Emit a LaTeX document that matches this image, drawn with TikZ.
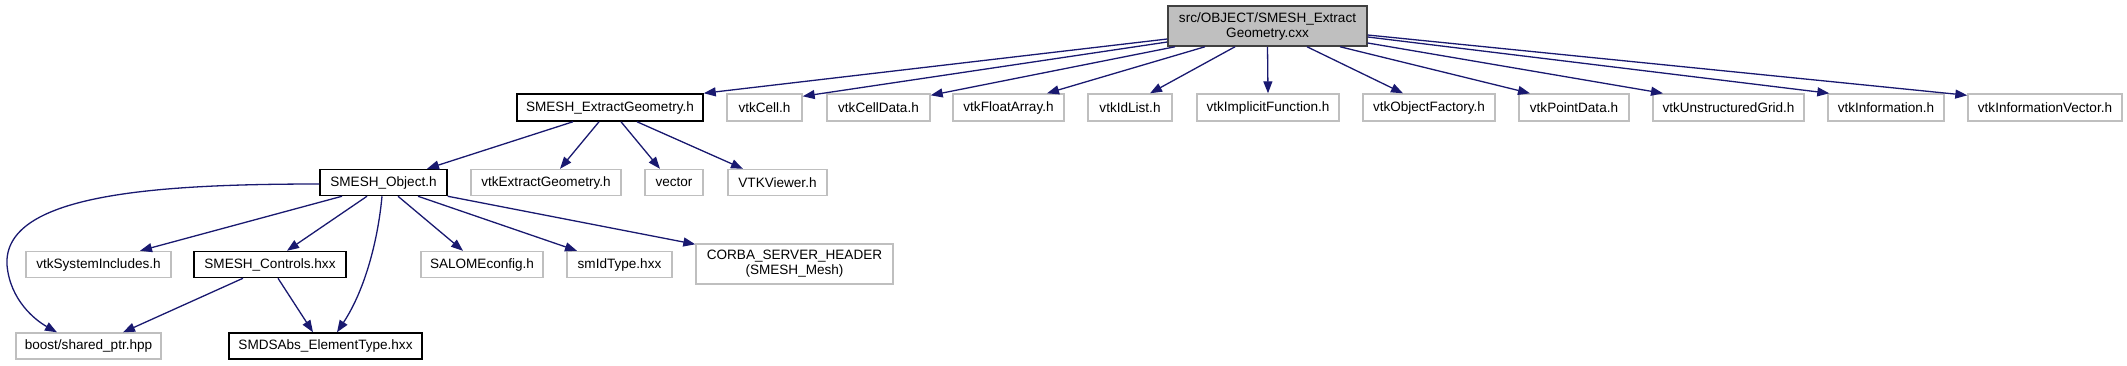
\documentclass[tikz,border=0pt]{standalone}
\usepackage{fontspec}
\setmainfont{Liberation Sans}
\usetikzlibrary{arrows.meta,calc}
\definecolor{edgeblue}{HTML}{191970}
\definecolor{boxgrey}{HTML}{BFBFBF}
\definecolor{rootborder}{HTML}{404040}
\begin{document}
\begin{tikzpicture}[x=1pt,y=-1pt,
  font=\fontsize{13.56}{15}\selectfont,
  extbox/.style={draw=boxgrey, line width=1.4pt, rectangle, inner sep=0pt, align=center},
  docbox/.style={draw=black, line width=1.5pt, rectangle, inner sep=0pt, align=center},
  rootbox/.style={draw=rootborder, fill=boxgrey, line width=1.5pt, rectangle, inner sep=0pt, align=center},
  dep/.style={draw=edgeblue, line width=1.3pt, -{Triangle[length=12pt,width=9pt]}}]
\useasboundingbox (0,0) rectangle (2127,365);
% row 1
\node[rootbox, minimum width=199pt, minimum height=40pt] (root) at (1267.5,26) {src/OBJECT/SMESH\_Extract\\Geometry.cxx};
% row 2
\node[docbox, minimum width=186pt, minimum height=27pt] (seg) at (610,107.5) {SMESH\_ExtractGeometry.h};
\node[extbox, minimum width=75pt, minimum height=27pt] (cell) at (764.5,107.5) {vtkCell.h};
\node[extbox, minimum width=103pt, minimum height=27pt] (celldata) at (878.5,107.5) {vtkCellData.h};
\node[extbox, minimum width=111pt, minimum height=27pt] (floatarr) at (1008.5,107.5) {vtkFloatArray.h};
\node[extbox, minimum width=84pt, minimum height=27pt] (idlist) at (1130,107.5) {vtkIdList.h};
\node[extbox, minimum width=142pt, minimum height=27pt] (implicit) at (1268,107.5) {vtkImplicitFunction.h};
\node[extbox, minimum width=132pt, minimum height=27pt] (objfact) at (1429,107.5) {vtkObjectFactory.h};
\node[extbox, minimum width=110pt, minimum height=27pt] (pointdata) at (1574,107.5) {vtkPointData.h};
\node[extbox, minimum width=151pt, minimum height=27pt] (ugrid) at (1728.5,107.5) {vtkUnstructuredGrid.h};
\node[extbox, minimum width=116pt, minimum height=27pt] (info) at (1886,107.5) {vtkInformation.h};
\node[extbox, minimum width=154pt, minimum height=27pt] (infovec) at (2045,107.5) {vtkInformationVector.h};
% row 3
\node[docbox, minimum width=127pt, minimum height=26pt] (obj) at (383.5,182.5) {SMESH\_Object.h};
\node[extbox, minimum width=150pt, minimum height=26pt] (extgeo) at (546,182.5) {vtkExtractGeometry.h};
\node[extbox, minimum width=58pt, minimum height=26pt] (vector) at (674,182.5) {vector};
\node[extbox, minimum width=99pt, minimum height=26pt] (viewer) at (777.5,182.5) {VTKViewer.h};
% row 4
\node[extbox, minimum width=145pt, minimum height=26pt] (sysinc) at (98.5,264.5) {vtkSystemIncludes.h};
\node[docbox, minimum width=152pt, minimum height=26pt] (controls) at (270,264.5) {SMESH\_Controls.hxx};
\node[extbox, minimum width=122pt, minimum height=26pt] (salome) at (482,264.5) {SALOMEconfig.h};
\node[extbox, minimum width=105pt, minimum height=26pt] (smid) at (619.5,264.5) {smIdType.hxx};
\node[extbox, minimum width=197pt, minimum height=40pt] (corba) at (794.5,264) {CORBA\_SERVER\_HEADER\\(SMESH\_Mesh)};
% row 5
\node[extbox, minimum width=145pt, minimum height=26pt] (boost) at (88.5,346) {boost/shared\_ptr.hpp};
\node[docbox, minimum width=193pt, minimum height=26pt] (smds) at (325.5,346) {SMDSAbs\_ElementType.hxx};
% edges from root
\draw[dep] ([yshift=-13pt]root.west) -- (seg.north east);
\draw[dep] ([yshift=-16pt]root.west) -- ([yshift=-3pt]cell.north east);
\draw[dep] ([xshift=-92.5pt]root.south) -- ([yshift=-2pt]celldata.north east);
\draw[dep] ([xshift=-62.5pt]root.south) -- ([xshift=38.5pt]floatarr.north);
\draw[dep] ([xshift=-32.5pt]root.south) -- ([xshift=20pt]idlist.north);
\draw[dep] (root.south) -- (implicit.north);
\draw[dep] ([xshift=39.5pt]root.south) -- ([xshift=-26pt]objfact.north);
\draw[dep] ([xshift=72.5pt]root.south) -- ([xshift=-44pt]pointdata.north);
\draw[dep] ([yshift=-17pt]root.east) -- ([xshift=-65.5pt]ugrid.north);
\draw[dep] ([yshift=-11pt]root.east) -- ([xshift=2pt]info.north west);
\draw[dep] ([yshift=-9pt]root.east) -- ([yshift=-2pt]infovec.north west);
% edges from SMESH_ExtractGeometry.h
\draw[dep] ([xshift=-37pt]seg.south) -- ([xshift=43.5pt]obj.north);
\draw[dep] ([xshift=-11pt]seg.south) -- ([xshift=14pt]extgeo.north);
\draw[dep] ([xshift=11pt]seg.south) -- ([xshift=-14pt]vector.north);
\draw[dep] ([xshift=27pt]seg.south) -- ([xshift=-34.5pt]viewer.north);
% edges from SMESH_Object.h
\coordinate (bend) at (7,265);
\draw[dep] ([yshift=-1.5pt]obj.west) .. controls (150,184) and (3,195) .. (bend)
  .. controls (10,300) and (35,320) .. ([xshift=-31.5pt]boost.north);
\draw[dep] ([xshift=-1.5pt]obj.south) .. controls (378,240) and (365,290) .. ([xshift=11.5pt]smds.north);
\draw[dep] ([xshift=-41.5pt]obj.south) -- ([xshift=41.5pt]sysinc.north);
\draw[dep] ([xshift=-16.5pt]obj.south) -- ([xshift=17pt]controls.north);
\draw[dep] ([xshift=14.5pt]obj.south) -- ([xshift=-19pt]salome.north);
\draw[dep] ([xshift=34.5pt]obj.south) -- ([xshift=-42.5pt]smid.north);
\draw[dep] (obj.south east) -- ([yshift=-1pt]corba.north west);
% edges from SMESH_Controls.hxx
\draw[dep] ([xshift=-27pt]controls.south) -- ([xshift=34.5pt]boost.north);
\draw[dep] ([xshift=8pt]controls.south) -- ([xshift=-12.5pt]smds.north);
\end{tikzpicture}
\end{document}
